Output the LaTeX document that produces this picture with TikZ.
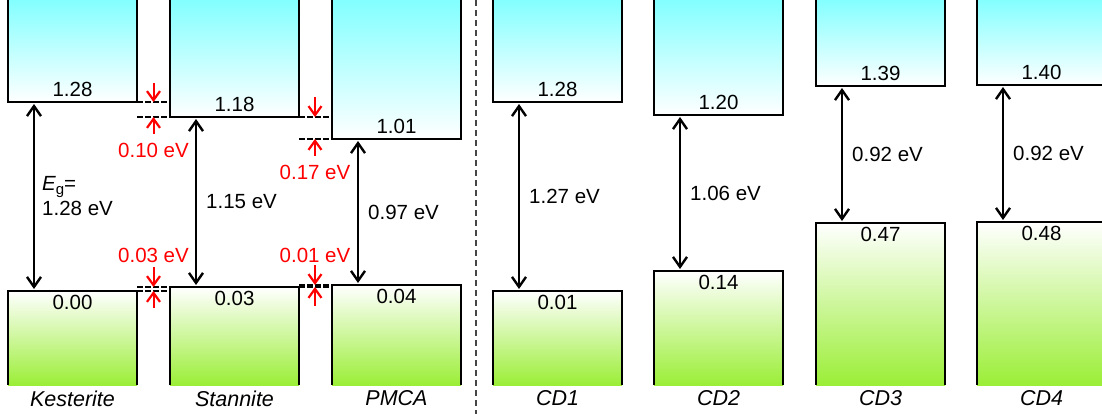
\documentclass[tikz,border=0pt]{standalone}
\usepackage{fontspec}
\setmainfont{Liberation Sans}
\usetikzlibrary{arrows.meta,calc}
\definecolor{cbtop}{RGB}{128,255,255}
\definecolor{vbbot}{RGB}{155,238,55}
\definecolor{sepgray}{RGB}{70,70,70}
\definecolor{annred}{RGB}{255,0,0}
\begin{document}
\begin{tikzpicture}[x=1pt,y=-1pt,
  cbbox/.style={rectangle, inner sep=0pt, outer sep=0pt, minimum width=129pt,
    top color=cbtop, bottom color=white, anchor=south west},
  vbbox/.style={rectangle, inner sep=0pt, outer sep=0pt, minimum width=129pt,
    top color=white, bottom color=vbbot, anchor=north west},
  boxline/.style={line width=2pt, line join=miter, black},
  num/.style={font=\fontsize{20.5}{25}\selectfont, inner sep=2pt},
  rednum/.style={num, text=annred},
  lab/.style={font=\fontsize{21.5}{25}\selectfont\itshape, inner sep=0pt},
  levelline/.style={line width=2pt, dash pattern=on 6pt off 2pt, black},
  gaparrow/.style={line width=2.1pt, black, shorten <=2pt, shorten >=2pt,
    {Straight Barb[length=10pt,width=14pt,line width=2.4pt]}-{Straight Barb[length=10pt,width=14pt,line width=2.4pt]}},
  redarrow/.style={line width=2pt, annred,
    -{Straight Barb[length=9pt,width=13pt,line width=2.2pt]}},
  sepline/.style={line width=1.5pt, sepgray, dash pattern=on 6pt off 4pt}
]
\useasboundingbox (0,0) rectangle (1102,414);
\clip (0,0) rectangle (1102,414);
\fill[white] (0,0) rectangle (1102,414);

\coordinate (lbl) at (0,398.5);

\foreach \n/\l/\c/\v/\cl/\vl/\nm in {
  K/8/102/291/1.28/0.00/Kesterite,
  S/170/117/287/1.18/0.03/Stannite,
  P/332/139/285/1.01/0.04/PMCA,
  CA/493/102/291/1.28/0.01/CD1,
  CB/654/115/271/1.20/0.14/CD2,
  CC/816/86/223/1.39/0.47/CD3,
  CD/977/85/222/1.40/0.48/CD4}{
  \node[cbbox, minimum height={\c+3}] (cb\n) at (\l,\c) {};
  \node[vbbox, minimum height={385-\v}] (vb\n) at (\l,\v) {};
  \draw[boxline] (cb\n.north west) -- (cb\n.south west) -- (cb\n.south east) -- (cb\n.north east);
  \draw[boxline] (vb\n.south west) -- (vb\n.north west) -- (vb\n.north east) -- (vb\n.south east);
  \node[num, anchor=south, yshift=3pt] (cbl\n) at (cb\n.south) {\cl};
  \node[num, anchor=north, yshift=-2pt] (vbl\n) at (vb\n.north) {\vl};
  \node[lab] (name\n) at (vb\n.south |- lbl) {\nm};
  \draw[gaparrow] ($(cb\n.south west)+(26,0)$) -- ($(vb\n.north west)+(26,0)$);
}

% gap labels
\node[num, anchor=west, align=left] (gK) at ($(cbK.south west)!.5!(vbK.north west)+(32,0)$)
  {{\itshape E}{\fontsize{15}{15}\selectfont\raisebox{-4pt}{g}}=\\[0pt]1.28 eV};
\foreach \n/\t in {S/1.15 eV, P/0.97 eV, CA/1.27 eV, CB/1.06 eV, CC/0.92 eV, CD/0.92 eV}{
  \node[num, anchor=west] (g\n) at ($(cb\n.south west)!.5!(vb\n.north west)+(34,0)$) {\t};
}

% separator
\coordinate (sepT) at (476,0);
\coordinate (sepB) at (476,414);
\draw[sepline] (sepT) -- (sepB);

% ---- offsets: Kesterite / Stannite conduction band
\coordinate (xKS) at (153.5,0);
\coordinate (xSP) at (315,0);
\draw[levelline] (cbK.south east) -- (cbK.south east -| cbS.south west);
\draw[levelline] (cbS.south west -| cbK.south east) -- (cbS.south west);
\coordinate (t1) at (153.5,83);
\coordinate (t2) at (153.5,134);
\draw[redarrow] (t1) -- (cbK.south east -| xKS);
\draw[redarrow] (t2) -- (cbS.south west -| xKS);
\node[rednum] (o1) at (153.5,150) {0.10 eV};

% Stannite / PMCA conduction band
\draw[levelline] (cbS.south east) -- (cbS.south east -| cbP.south west);
\draw[levelline] (cbP.south west -| cbS.south east) -- (cbP.south west);
\coordinate (t3) at (315,97);
\coordinate (t4) at (315,156);
\draw[redarrow] (t3) -- (cbS.south east -| xSP);
\draw[redarrow] (t4) -- (cbP.south west -| xSP);
\node[rednum] (o2) at (315,172) {0.17 eV};

% Kesterite / Stannite valence band
\draw[levelline] (vbK.north east) -- (vbK.north east -| vbS.north west);
\draw[levelline] (vbS.north west -| vbK.north east) -- (vbS.north west);
\coordinate (t5) at (153.5,267);
\coordinate (t6) at (153.5,308);
\draw[redarrow] (t5) -- (vbS.north west -| xKS);
\draw[redarrow] (t6) -- (vbK.north east -| xKS);
\node[rednum] (o3) at (153.5,255) {0.03 eV};

% Stannite / PMCA valence band
\draw[levelline] (vbS.north east) -- (vbS.north east -| vbP.north west);
\draw[levelline] (vbP.north west -| vbS.north east) -- (vbP.north west);
\coordinate (t7) at (315,265);
\coordinate (t8) at (315,306);
\draw[redarrow] (t7) -- (vbP.north west -| xSP);
\draw[redarrow] (t8) -- (vbS.north east -| xSP);
\node[rednum] (o4) at (315,255) {0.01 eV};
\end{tikzpicture}
\end{document}
